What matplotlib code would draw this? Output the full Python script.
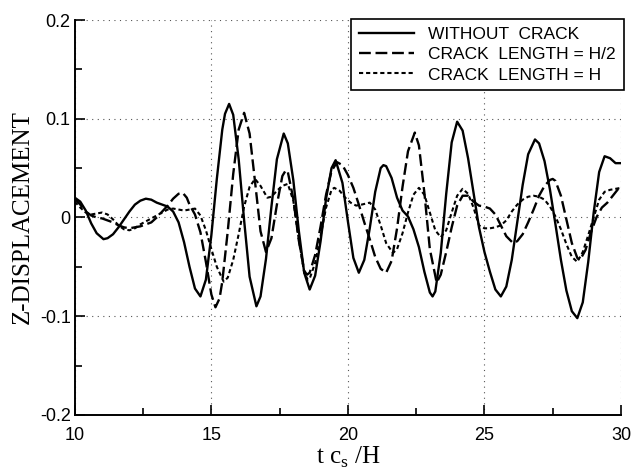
import matplotlib
matplotlib.use("Agg")
import matplotlib.pyplot as plt
from matplotlib.ticker import MultipleLocator

# WITHOUT CRACK
t_solid = [10.0, 10.2, 10.4, 10.6, 10.8, 11.05, 11.2, 11.4, 11.6, 11.8, 12.0, 12.2, 12.4, 12.6,
           12.8, 13.0, 13.2, 13.4, 13.6, 13.8, 14.0, 14.2, 14.4, 14.6, 14.8, 15.0, 15.2, 15.4,
           15.5, 15.65, 15.8, 16.0, 16.2, 16.4, 16.65, 16.8, 17.0, 17.2, 17.4, 17.65, 17.8, 18.0,
           18.2, 18.4, 18.6, 18.8, 19.0, 19.2, 19.4, 19.55, 19.8, 20.0, 20.2, 20.4, 20.6, 20.8,
           21.0, 21.2, 21.3, 21.4, 21.6, 21.8, 22.0, 22.2, 22.4, 22.6, 22.8, 23.0, 23.1, 23.2,
           23.4, 23.6, 23.8, 24.0, 24.2, 24.4, 24.6, 24.8, 25.0, 25.2, 25.4, 25.6, 25.8, 26.0,
           26.2, 26.4, 26.6, 26.85, 27.0, 27.2, 27.4, 27.6, 27.8, 28.0, 28.2, 28.4, 28.6, 28.8,
           29.0, 29.2, 29.4, 29.6, 29.8, 30.0]
z_solid = [0.020, 0.016, 0.007, -0.006, -0.016, -0.022, -0.021, -0.017, -0.010, -0.002, 0.006,
           0.013, 0.017, 0.019, 0.018, 0.015, 0.013, 0.011, 0.006, -0.005, -0.025, -0.050,
           -0.072, -0.080, -0.063, -0.018, 0.039, 0.089, 0.105, 0.115, 0.104, 0.059, -0.003,
           -0.060, -0.090, -0.080, -0.042, 0.011, 0.059, 0.085, 0.075, 0.038, -0.013, -0.056,
           -0.073, -0.059, -0.024, 0.019, 0.050, 0.058, 0.035, -0.004, -0.041, -0.056, -0.043,
           -0.011, 0.026, 0.050, 0.053, 0.052, 0.040, 0.020, 0.007, 0.001, -0.012, -0.030,
           -0.055, -0.076, -0.080, -0.075, -0.036, 0.024, 0.076, 0.097, 0.088, 0.060, 0.025,
           -0.010, -0.035, -0.055, -0.073, -0.080, -0.070, -0.043, -0.005, 0.033, 0.064, 0.079,
           0.075, 0.057, 0.028, -0.007, -0.043, -0.074, -0.095, -0.102, -0.086, -0.045, 0.005,
           0.046, 0.062, 0.060, 0.055, 0.055]

# CRACK LENGTH = H/2
t_half = [10.0, 10.2, 10.4, 10.6, 10.8, 11.0, 11.2, 11.4, 11.6, 11.8, 12.0, 12.2, 12.4, 12.6,
          12.8, 13.0, 13.2, 13.4, 13.6, 13.8, 13.95, 14.1, 14.2, 14.4, 14.6, 14.8, 15.0, 15.15,
          15.3, 15.4, 15.6, 15.8, 16.0, 16.2, 16.4, 16.6, 16.8, 17.0, 17.2, 17.4, 17.6, 17.73,
          17.8, 18.0, 18.2, 18.4, 18.5, 18.6, 18.8, 19.0, 19.2, 19.4, 19.6, 19.8, 20.0, 20.2,
          20.4, 20.6, 20.8, 21.0, 21.2, 21.4, 21.6, 21.8, 22.0, 22.2, 22.45, 22.6, 22.8, 23.0,
          23.25, 23.4, 23.6, 23.8, 24.0, 24.2, 24.4, 24.6, 24.8, 25.0, 25.2, 25.4, 25.6, 25.8,
          26.05, 26.2, 26.4, 26.6, 26.8, 27.0, 27.2, 27.4, 27.5, 27.6, 27.8, 28.0, 28.2, 28.4,
          28.5, 28.7, 28.9, 29.1, 29.3, 29.5, 29.7, 29.9, 30.0]
z_half = [0.019, 0.013, 0.006, 0.002, 0.000, -0.001, -0.003, -0.005, -0.008, -0.010, -0.011,
          -0.010, -0.009, -0.007, -0.005, 0.000, 0.006, 0.012, 0.019, 0.024, 0.025, 0.020,
          0.013, 0.003, -0.015, -0.045, -0.078, -0.091, -0.082, -0.065, -0.014, 0.044, 0.089,
          0.106, 0.085, 0.036, -0.014, -0.035, -0.021, 0.013, 0.042, 0.048, 0.046, 0.019,
          -0.023, -0.054, -0.058, -0.056, -0.038, -0.009, 0.023, 0.047, 0.056, 0.053, 0.043,
          0.030, 0.013, -0.005, -0.022, -0.040, -0.052, -0.056, -0.044, -0.011, 0.031, 0.067,
          0.086, 0.073, 0.025, -0.032, -0.066, -0.058, -0.035, -0.010, 0.012, 0.022, 0.022,
          0.016, 0.012, 0.011, 0.009, 0.003, -0.008, -0.019, -0.026, -0.024, -0.017, -0.005,
          0.008, 0.022, 0.032, 0.038, 0.039, 0.037, 0.022, -0.002, -0.026, -0.041, -0.043,
          -0.033, -0.015, 0.000, 0.010, 0.015, 0.022, 0.029, 0.030]

# CRACK LENGTH = H
t_full = [10.0, 10.2, 10.4, 10.6, 10.8, 11.0, 11.2, 11.4, 11.6, 11.8, 12.0, 12.2, 12.4, 12.6,
          12.8, 13.0, 13.2, 13.4, 13.6, 13.8, 14.0, 14.2, 14.4, 14.6, 14.8, 15.0, 15.2, 15.45,
          15.6, 15.8, 16.0, 16.2, 16.4, 16.6, 16.8, 17.05, 17.2, 17.4, 17.6, 17.8, 18.0, 18.2,
          18.4, 18.53, 18.6, 18.8, 19.0, 19.2, 19.4, 19.5, 19.7, 19.9, 20.1, 20.3, 20.5, 20.8,
          21.0, 21.2, 21.4, 21.65, 21.8, 22.0, 22.2, 22.4, 22.6, 22.8, 23.0, 23.2, 23.4, 23.6,
          23.8, 24.0, 24.2, 24.4, 24.6, 24.8, 25.0, 25.2, 25.4, 25.6, 25.8, 26.0, 26.2, 26.4,
          26.6, 26.8, 27.0, 27.2, 27.4, 27.6, 27.8, 28.0, 28.2, 28.4, 28.6, 28.8, 29.0, 29.2,
          29.4, 29.6, 29.8, 30.0]
z_full = [0.016, 0.010, 0.005, 0.003, 0.004, 0.005, 0.003, -0.002, -0.008, -0.012, -0.013,
          -0.011, -0.007, -0.004, -0.001, 0.002, 0.005, 0.008, 0.009, 0.008, 0.007, 0.008,
          0.009, 0.002, -0.013, -0.032, -0.050, -0.065, -0.061, -0.043, -0.017, 0.011, 0.031,
          0.039, 0.032, 0.020, 0.021, 0.027, 0.032, 0.034, 0.017, -0.022, -0.056, -0.063,
          -0.062, -0.046, -0.019, 0.010, 0.028, 0.030, 0.027, 0.020, 0.015, 0.012, 0.013,
          0.015, 0.008, -0.008, -0.026, -0.036, -0.032, -0.016, 0.005, 0.023, 0.030, 0.023,
          0.005, -0.013, -0.020, -0.013, 0.005, 0.022, 0.029, 0.024, 0.010, -0.008, -0.011,
          -0.011, -0.010, -0.008, -0.003, 0.006, 0.013, 0.018, 0.021, 0.022, 0.021, 0.018,
          0.011, 0.001, -0.012, -0.027, -0.040, -0.045, -0.035, -0.018, 0.000, 0.018, 0.026,
          0.028, 0.029, 0.030]

sans = "Liberation Sans"
serif = "Liberation Serif"

fig = plt.figure(figsize=(6.34, 4.72), dpi=100)
ax = fig.add_axes([0.118, 0.121, 0.8615, 0.8366])

ax.plot(t_solid, z_solid, color="black", lw=1.7, label="WITHOUT  CRACK")
ax.plot(t_half, z_half, color="black", lw=1.7, linestyle=(0, (5, 2)), label="CRACK  LENGTH = H/2")
ax.plot(t_full, z_full, color="black", lw=1.5, linestyle=(0, (2, 1.4)), label="CRACK  LENGTH = H")

ax.set_xlim(10, 30)
ax.set_ylim(-0.2, 0.2)
ax.xaxis.set_major_locator(MultipleLocator(5))
ax.xaxis.set_minor_locator(MultipleLocator(2.5))
ax.yaxis.set_major_locator(MultipleLocator(0.1))
ax.yaxis.set_minor_locator(MultipleLocator(0.05))
ax.yaxis.set_major_formatter(plt.FuncFormatter(lambda v, p: "0" if abs(v) < 1e-9 else "%.1f" % v))

ax.tick_params(which="both", direction="in", width=1.2, labelsize=13)
ax.tick_params(axis="x", pad=9)
ax.tick_params(axis="y", pad=3)
ax.tick_params(which="major", length=7)
ax.tick_params(which="minor", length=5)
for lab in ax.get_xticklabels() + ax.get_yticklabels():
    lab.set_fontfamily(sans)

ax.grid(True, which="major", linestyle=(0, (1, 4)), color="#555555", linewidth=0.8)
ax.spines["top"].set_visible(False)
ax.spines["right"].set_visible(False)
ax.spines["left"].set_linewidth(1.4)
ax.spines["bottom"].set_linewidth(1.4)

ax.set_xlabel(r"t c$_\mathregular{s}$ /H", fontfamily=serif, fontsize=18, labelpad=0)
ax.set_ylabel("Z-DISPLACEMENT", fontfamily=serif, fontsize=18, labelpad=4)

leg = ax.legend(loc="upper right", bbox_to_anchor=(1.005, 1.003), borderaxespad=0,
                fancybox=False, framealpha=1, edgecolor="black",
                prop={"family": sans, "size": 12.5}, handlelength=3.2,
                handletextpad=0.8, labelspacing=0.3, borderpad=0.45)
leg.get_frame().set_linewidth(1.2)

fig.savefig("out.png", dpi=100)
